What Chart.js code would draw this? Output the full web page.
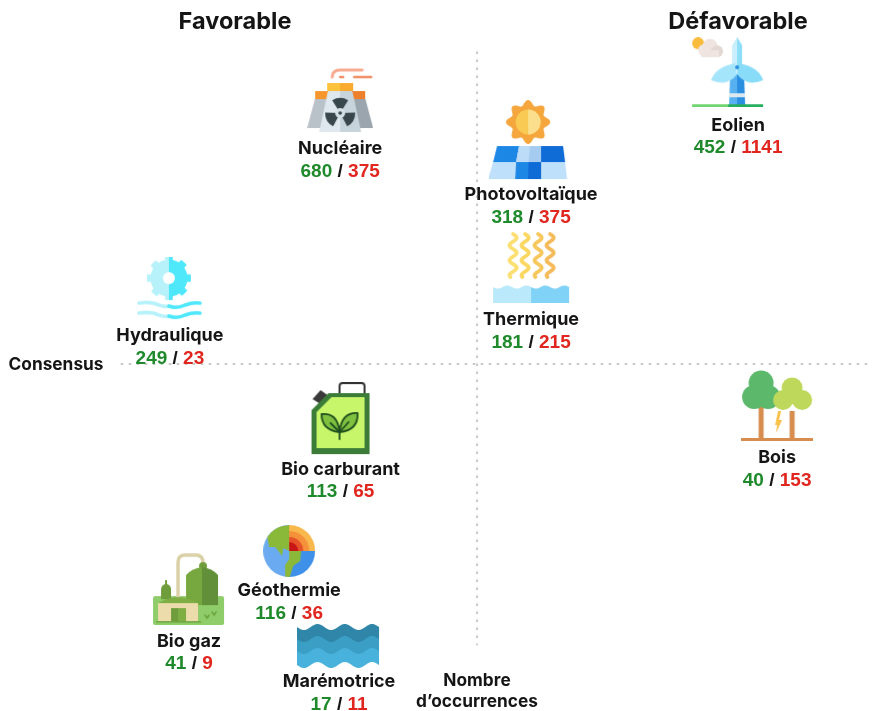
<!DOCTYPE html>
<html lang="fr">
<head>
    <meta charset="UTF-8">
    <title>Energies : Favorable / Défavorable</title>
    <script src="https://cdn.jsdelivr.net/npm/chart.js"></script>
    <style>
        html, body { margin: 0; padding: 0; background: #fff; }
        canvas { display: block; }
    </style>
</head>
<body>
    <canvas id="energyChart" width="872" height="711"></canvas>

    <script>
        // Data
        const energies = ['Nucléaire', 'Photovoltaïque', 'Thermique', 'Eolien', 'Hydraulique', 'Bio carburant', 'Bois', 'Géothermie', 'Bio gaz', 'Marémotrice'];
        const favorable = [680, 318, 181, 452, 249, 113, 40, 116, 41, 17];
        const defavorable = [375, 375, 215, 1141, 23, 65, 153, 36, 9, 11];
        // position, 0 = where the two dotted axes cross
        const consensusPos = [-36.5, 14.4, 14.4, 69.6, -81.9, -36.4, 80, -50.1, -76.8, -36.8];
        const occurrencePos = [84.5, 71.7, 30.9, 93.4, 24, -17.6, -13.4, -59.8, -72, -90.2];

        const xAxisLine = [-95, 105.3];
        const yAxisLine = [100, -90];

        const GREEN = '#1f8a2b';
        const RED = '#e0261e';
        const DARK = '#151515';

        // Small drawing helpers for the icons
        function poly(ctx, color, pts) {
            ctx.fillStyle = color;
            ctx.beginPath();
            pts.forEach((p, i) => i ? ctx.lineTo(p[0], p[1]) : ctx.moveTo(p[0], p[1]));
            ctx.closePath();
            ctx.fill();
        }
        function rect(ctx, color, x, y, w, h) {
            ctx.fillStyle = color;
            ctx.fillRect(x, y, w, h);
        }
        function disc(ctx, color, x, y, r) {
            ctx.fillStyle = color;
            ctx.beginPath();
            ctx.arc(x, y, r, 0, Math.PI * 2);
            ctx.fill();
        }
        function sector(ctx, color, x, y, r, from, to) {
            ctx.fillStyle = color;
            ctx.beginPath();
            ctx.moveTo(x, y);
            ctx.arc(x, y, r, from, to);
            ctx.closePath();
            ctx.fill();
        }
        function stroke(ctx, color, width, fn) {
            ctx.strokeStyle = color;
            ctx.lineWidth = width;
            ctx.lineCap = 'round';
            ctx.lineJoin = 'round';
            ctx.beginPath();
            fn();
            ctx.stroke();
        }
        // filled band with a wavy top and bottom edge
        function waveBand(ctx, color, x0, x1, yTop, yBot, amp, period, flatBottom) {
            ctx.fillStyle = color;
            ctx.beginPath();
            for (let x = x0; x <= x1; x++) {
                ctx.lineTo(x, yTop + amp * Math.sin((x - x0) * 2 * Math.PI / period));
            }
            for (let x = x1; x >= x0; x--) {
                ctx.lineTo(x, flatBottom ? yBot : yBot + amp * Math.sin((x - x0) * 2 * Math.PI / period));
            }
            ctx.closePath();
            ctx.fill();
        }

        // Icons: w, h = size of the image, gap = space down to the name
        const icons = {
            'Nucléaire': { w: 66, h: 64, gap: 17, draw(c) {
                stroke(c, '#f6ab90', 3, () => { c.moveTo(25, 9); c.quadraticCurveTo(25, 2, 33, 2); c.lineTo(55, 2); });
                stroke(c, '#f08f68', 2.5, () => { c.moveTo(33, 9); c.lineTo(36, 9); c.moveTo(47, 9); c.lineTo(64, 9); });
                poly(c, '#b9c1c9', [[0, 60], [8, 30], [33, 30], [33, 60]]);
                poly(c, '#9aa5ae', [[66, 60], [58, 30], [33, 30], [33, 60]]);
                rect(c, '#f7962d', 8, 23, 13, 8);
                rect(c, '#ee7f2b', 45, 23, 13, 8);
                poly(c, '#dfe8ee', [[12, 64], [21, 22], [33, 22], [33, 64]]);
                poly(c, '#c8d4dc', [[54, 64], [45, 22], [33, 22], [33, 64]]);
                rect(c, '#fcc23c', 20, 15, 13, 8);
                rect(c, '#f8ab2e', 33, 15, 13, 8);
                const dark = '#37474b';
                [-90, 30, 150].forEach(a => sector(c, dark, 33, 45, 15, (a - 32) * Math.PI / 180, (a + 32) * Math.PI / 180));
                disc(c, '#d5e0e7', 33, 45, 5);
                disc(c, dark, 33, 45, 1.8);
            } },
            'Photovoltaïque': { w: 84, h: 80, gap: 15, draw(c) {
                c.fillStyle = '#f5a63c';
                c.beginPath();
                for (let a = 0; a <= 360; a += 3) {
                    const r = 19.5 + 2.6 * Math.cos(a * 8 * Math.PI / 180);
                    c.lineTo(39 + r * Math.sin(a * Math.PI / 180), 22 - r * Math.cos(a * Math.PI / 180));
                }
                c.fill();
                disc(c, '#f9cb55', 39, 22, 12.5);
                sector(c, '#fbdf8c', 39, 22, 12.5, -Math.PI / 2, Math.PI / 2);
                const topX = [8, 30, 52, 74], midX = [4, 27, 52, 76], botX = [-1, 26, 52, 78];
                const cell = (col, tx, bx, yt, yb, color) => poly(c, color, [[tx[col], yt], [tx[col + 1], yt], [bx[col + 1], yb], [bx[col], yb]]);
                cell(0, topX, midX, 46, 62, '#1d87e6');
                cell(1, topX, midX, 46, 62, '#bcdcf8');
                cell(2, topX, midX, 46, 62, '#0f6bd6');
                cell(0, midX, botX, 62, 79, '#bfe0fb');
                cell(1, midX, botX, 62, 79, '#1d87e6');
                cell(2, midX, botX, 62, 79, '#bfe0fb');
                poly(c, '#a5cbf1', [[41, 46], [52, 46], [52, 62], [39.5, 62]]);
                poly(c, '#0f6bd6', [[39.5, 62], [52, 62], [52, 79], [39, 79]]);
            } },
            'Thermique': { w: 78, h: 71, gap: 17, draw(c) {
                [[21, '#fbdf70'], [33, '#fbd760'], [46, '#f7c75c'], [58, '#f5bb5a']].forEach(l => {
                    stroke(c, l[1], 3.8, () => {
                        for (let y = 2; y <= 45; y++) {
                            c.lineTo(l[0] + 3.6 * Math.sin((y - 2) * 2 * Math.PI / 15), y);
                        }
                    });
                });
                waveBand(c, '#b9e9fb', 1, 39, 55, 71, 1.6, 19, true);
                waveBand(c, '#80d2f6', 39, 77, 55, 71, 1.6, 19, true);
            } },
            'Eolien': { w: 94, h: 70, gap: 18, draw(c) {
                disc(c, '#f9bb3c', 7, 6, 6);
                disc(c, '#f0e7e3', 13, 13, 6);
                disc(c, '#efe4e0', 19, 9, 7.5);
                disc(c, '#e4d8d4', 26, 14, 6);
                rect(c, '#efe4e0', 10, 13, 18, 7);
                poly(c, '#57b1f0', [[39, 38], [46, 37], [46, 67], [38, 67]]);
                poly(c, '#2a8fe0', [[53, 38], [46, 37], [46, 67], [54, 67]]);
                rect(c, '#dce8f0', 38, 56, 16, 4);
                poly(c, '#c9effc', [[46, 0], [41, 8], [41, 32], [46, 34]]);
                poly(c, '#8fdef9', [[46, 0], [51, 8], [51, 32], [46, 34]]);
                c.fillStyle = '#a5e5fb';
                c.beginPath(); c.moveTo(44, 26); c.quadraticCurveTo(24, 30, 20, 43); c.quadraticCurveTo(36, 50, 46, 37); c.fill();
                c.fillStyle = '#88dcf8';
                c.beginPath(); c.moveTo(48, 26); c.quadraticCurveTo(68, 30, 72, 43); c.quadraticCurveTo(56, 50, 46, 37); c.fill();
                disc(c, '#2a8fe0', 46, 30, 2);
                rect(c, '#70d470', 1, 67, 36, 3);
                rect(c, '#27ae60', 37, 67, 35, 3);
            } },
            'Hydraulique': { w: 66, h: 64, gap: 15, draw(c) {
                const gear = (color, from, to) => {
                    c.fillStyle = color;
                    c.beginPath();
                    c.moveTo(32, 21);
                    for (let a = from; a <= to; a += 2) {
                        const t = ((a + 360 + 11) % 45) < 22 ? 22 : 18.5;
                        c.lineTo(32 + t * Math.sin(a * Math.PI / 180), 21 - t * Math.cos(a * Math.PI / 180));
                    }
                    c.fill();
                };
                gear('#b7f2fa', 180, 360);
                gear('#4fe8fb', 0, 180);
                disc(c, '#fff', 32, 21, 6);
                [48, 58].forEach(y => {
                    stroke(c, '#b7f2fa', 3.6, () => { c.moveTo(2, y - 2); c.quadraticCurveTo(14, y - 4, 22, y); c.quadraticCurveTo(28, y + 2, 32, y + 1); });
                    stroke(c, '#4fe8fb', 3.6, () => { c.moveTo(32, y + 1); c.quadraticCurveTo(40, y + 4, 48, y); c.quadraticCurveTo(56, y - 3, 63, y - 2); });
                });
            } },
            'Bio carburant': { w: 60, h: 74, gap: 13, draw(c) {
                stroke(c, '#333', 2, () => {
                    c.moveTo(29, 11); c.lineTo(29, 4); c.quadraticCurveTo(29, 1, 32, 1); c.lineTo(51, 1); c.quadraticCurveTo(54, 1, 54, 4); c.lineTo(54, 11);
                });
                poly(c, '#3a3a3a', [[2, 17], [10, 8], [17, 13], [10, 22]]);
                poly(c, '#3b7d38', [[1, 28], [18, 11], [59, 11], [59, 72], [1, 72]]);
                poly(c, '#c7f66b', [[6, 30], [21, 15], [54, 15], [54, 66], [6, 66]]);
                const leaf = (pts, ctrl) => {
                    c.fillStyle = '#7fc13f';
                    c.beginPath();
                    c.moveTo(pts[0], pts[1]);
                    c.quadraticCurveTo(ctrl[0], ctrl[1], pts[2], pts[3]);
                    c.quadraticCurveTo(ctrl[2], ctrl[3], pts[0], pts[1]);
                    c.fill();
                    c.strokeStyle = '#1f4d1f';
                    c.lineWidth = 1.8;
                    c.stroke();
                };
                leaf([29, 50, 11, 32], [27, 30, 11, 48]);
                leaf([29, 50, 47, 31], [31, 30, 48, 48]);
                stroke(c, '#1f4d1f', 1.8, () => { c.moveTo(29, 57); c.lineTo(29, 50); c.moveTo(29, 50); c.lineTo(20, 41); c.moveTo(29, 50); c.lineTo(38, 40); });
            } },
            'Bois': { w: 72, h: 72, gap: 16, draw(c) {
                rect(c, '#d68d4e', 17.5, 30, 5, 38);
                disc(c, '#5cb96c', 20, 13, 12.5);
                disc(c, '#5cb96c', 13, 27, 12);
                disc(c, '#5cb96c', 27, 27, 12);
                rect(c, '#5cb96c', 11, 14, 18, 14);
                disc(c, '#bdd85a', 51, 18, 10.5);
                disc(c, '#bdd85a', 42, 30, 10);
                disc(c, '#bdd85a', 61, 30, 10);
                rect(c, '#bdd85a', 44, 20, 15, 14);
                rect(c, '#d68d4e', 48.5, 41, 5, 27);
                poly(c, '#f9c04a', [[37, 41], [34, 55], [36, 55], [35, 63], [41, 50], [38, 50], [40, 41]]);
                rect(c, '#d68d4e', 0, 68, 72, 3);
            } },
            'Géothermie': { w: 52, h: 52, gap: 14, draw(c) {
                c.save();
                c.beginPath();
                c.arc(26, 26, 26, 0, Math.PI * 2);
                c.clip();
                rect(c, '#6aaaf0', 0, 0, 26, 52);
                rect(c, '#3f90e8', 26, 26, 26, 26);
                poly(c, '#8ab93a', [[4, 12], [12, 2], [26, 0], [26, 26], [20, 23], [19, 31], [12, 22], [6, 22]]);
                poly(c, '#8ab93a', [[26, 26], [38, 26], [37, 36], [30, 41], [27, 51], [26, 52]]);
                poly(c, '#8ab93a', [[26, 34], [26, 52], [22, 52], [22, 40]]);
                c.restore();
                const q = [-Math.PI / 2, 0];
                sector(c, '#f9b84c', 26, 26, 26, q[0], q[1]);
                sector(c, '#f4913a', 26, 26, 20, q[0], q[1]);
                sector(c, '#e6532a', 26, 26, 14, q[0], q[1]);
                sector(c, '#c81616', 26, 26, 9, q[0], q[1]);
            } },
            'Bio gaz': { w: 74, h: 72, gap: 16, draw(c) {
                c.fillStyle = '#8fcc6a';
                c.beginPath();
                c.roundRect(1, 43, 71, 29, 2);
                c.fill();
                stroke(c, '#dbd1a8', 3.5, () => { c.moveTo(26, 47); c.lineTo(26, 9); c.quadraticCurveTo(26, 2, 33, 2); c.lineTo(44, 2); c.quadraticCurveTo(51, 2, 51, 10); });
                disc(c, '#6f9d3c', 51, 13, 4);
                c.fillStyle = '#77a840';
                c.beginPath(); c.moveTo(34, 52); c.lineTo(34, 22); c.quadraticCurveTo(40, 15, 50, 14); c.lineTo(50, 52); c.fill();
                c.fillStyle = '#62903a';
                c.beginPath(); c.moveTo(66, 52); c.lineTo(66, 22); c.quadraticCurveTo(60, 15, 50, 14); c.lineTo(50, 52); c.fill();
                c.fillStyle = '#6f9d3c';
                c.beginPath(); c.arc(14, 36, 5, Math.PI, 0); c.lineTo(19, 46); c.lineTo(9, 46); c.fill();
                rect(c, '#6f9d3c', 13, 27, 2, 6);
                c.fillStyle = '#7fae45';
                c.beginPath(); c.moveTo(6, 50); c.quadraticCurveTo(26, 38, 46, 50); c.fill();
                rect(c, '#ecdcab', 6, 50, 40, 19);
                rect(c, '#6f9d3c', 19, 55, 15, 14);
                rect(c, '#7fae45', 26, 55, 8, 14);
                rect(c, '#6ea63f', 4, 68, 45, 1.5);
                stroke(c, '#6ea63f', 1.6, () => {
                    c.moveTo(53, 62); c.lineTo(55, 65); c.lineTo(57, 62);
                    c.moveTo(60, 59); c.lineTo(62, 62); c.lineTo(64, 59);
                });
            } },
            'Marémotrice': { w: 84, h: 46, gap: 13, draw(c) {
                waveBand(c, '#2f86a8', 0, 82, 4, 30, 3, 27.3);
                waveBand(c, '#3b9fc5', 0, 82, 16, 36, 3, 27.3);
                waveBand(c, '#48b1dc', 0, 82, 28, 42, 3, 27.3);
            } }
        };

        function iconCanvas(icon) {
            const cv = document.createElement('canvas');
            cv.width = icon.w;
            cv.height = icon.h;
            const c = cv.getContext('2d');
            c.filter = 'blur(0.4px)';
            icon.draw(c);
            return cv;
        }

        // Names, counts and headings, written next to the points
        const labelsPlugin = {
            id: 'energyLabels',
            afterDatasetsDraw(chart) {
                const ctx = chart.ctx;
                const meta = chart.getDatasetMeta(0);
                ctx.save();
                ctx.textBaseline = 'middle';
                meta.data.forEach((pt, i) => {
                    const icon = icons[energies[i]];
                    const nameY = pt.y + icon.h / 2 + icon.gap;
                    ctx.textAlign = 'center';
                    ctx.fillStyle = DARK;
                    ctx.font = '700 18px Inter';
                    ctx.fillText(energies[i], pt.x, nameY);

                    const parts = [[String(favorable[i]), GREEN], [' / ', DARK], [String(defavorable[i]), RED]];
                    ctx.font = '700 19px "Liberation Sans"';
                    ctx.textAlign = 'left';
                    const total = parts.reduce((s, p) => s + ctx.measureText(p[0]).width, 0);
                    let x = pt.x - total / 2;
                    parts.forEach(p => {
                        ctx.fillStyle = p[1];
                        ctx.fillText(p[0], x, nameY + 23);
                        x += ctx.measureText(p[0]).width;
                    });
                });

                ctx.fillStyle = DARK;
                ctx.textAlign = 'center';
                ctx.font = '700 23.5px Inter';
                ctx.fillText('Favorable', 235, 22);
                ctx.fillText('Défavorable', 738, 22);
                ctx.font = '700 17.3px Inter';
                ctx.fillText('Consensus', 56, 365);
                ctx.fillText('Nombre', 477, 681);
                ctx.fillText('d’occurrences', 477, 702);
                ctx.restore();
            }
        };

        new Chart(document.getElementById('energyChart'), {
            type: 'scatter',
            data: {
                datasets: [
                    {
                        label: 'Energies',
                        order: 1,
                        clip: false,
                        data: energies.map((e, i) => ({ x: consensusPos[i], y: occurrencePos[i] })),
                        pointStyle: energies.map(e => iconCanvas(icons[e])),
                        pointRadius: 20,
                        showLine: false
                    },
                    {
                        label: 'Consensus',
                        order: 2,
                        data: xAxisLine.map(v => ({ x: v, y: 0 })),
                        showLine: true,
                        borderColor: '#c8c8c8',
                        borderWidth: 2,
                        borderDash: [2.5, 5.5],
                        pointRadius: 0
                    },
                    {
                        label: 'Occurrences',
                        order: 2,
                        data: yAxisLine.map(v => ({ x: 0, y: v })),
                        showLine: true,
                        borderColor: '#c8c8c8',
                        borderWidth: 2,
                        borderDash: [2.5, 5.5],
                        pointRadius: 0
                    }
                ]
            },
            options: {
                responsive: false,
                animation: false,
                events: [],
                layout: { padding: 0, autoPadding: false },
                plugins: { legend: { display: false }, tooltip: { enabled: false } },
                scales: {
                    x: { type: 'linear', display: false, min: -127.2, max: 105.3 },
                    y: { type: 'linear', display: false, min: -111, max: 116.5 }
                }
            },
            plugins: [labelsPlugin]
        });
    </script>
</body>
</html>
